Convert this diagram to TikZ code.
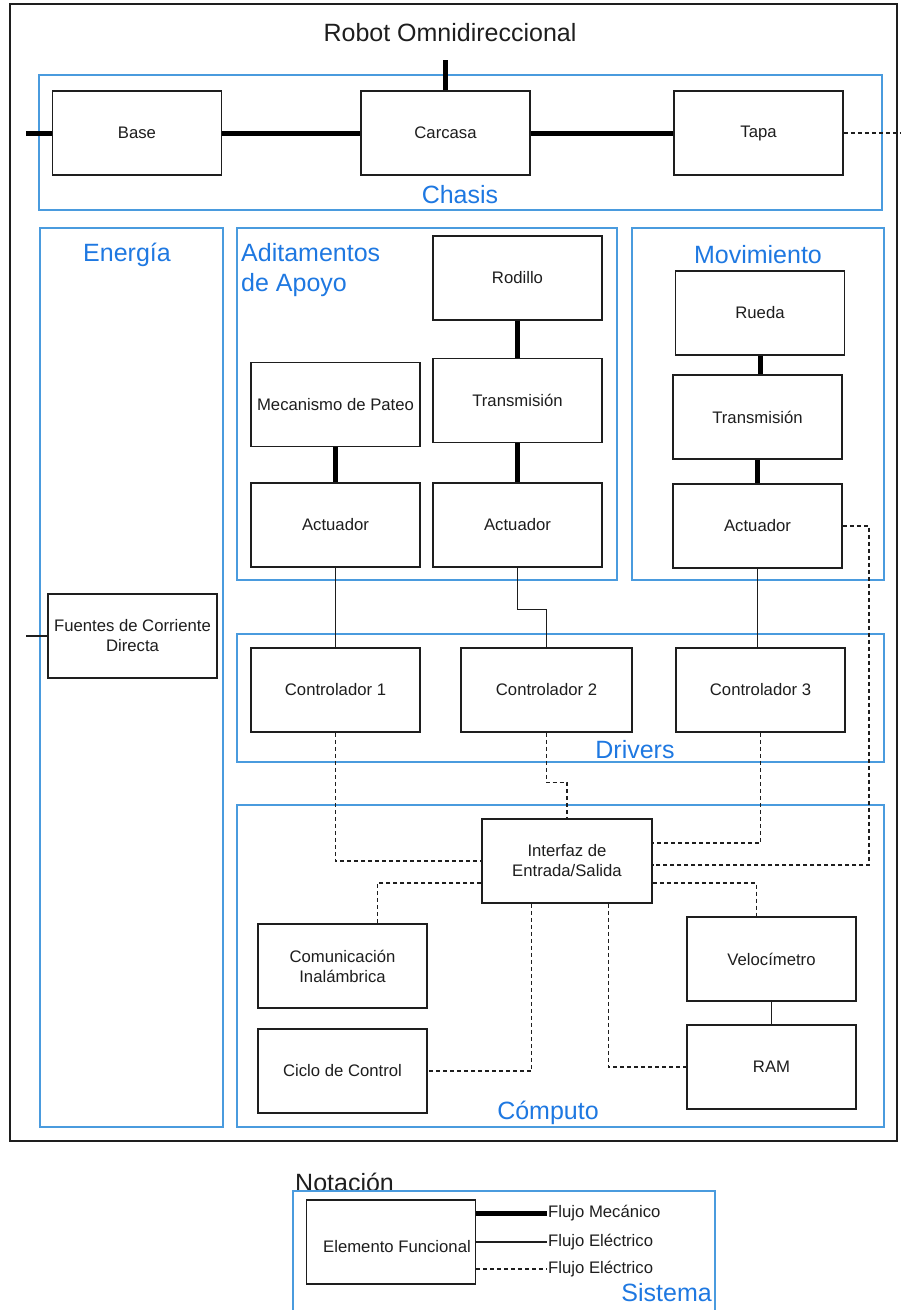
\documentclass[tikz,border=0pt]{standalone}
\usepackage{fontspec}
\setmainfont{Liberation Sans}
\usetikzlibrary{calc}
\definecolor{grpblue}{RGB}{74,155,222}
\definecolor{lblblue}{RGB}{30,120,225}
\definecolor{ink}{RGB}{30,30,30}
\begin{document}
\begin{tikzpicture}[x=1pt,y=-1pt,
  fbox/.style={draw=ink,line width=1.5pt,fill=white,minimum width=169pt,minimum height=84pt,
    inner sep=2pt,align=center,font=\fontsize{16.7}{20}\selectfont,text=ink},
  group/.style={draw=grpblue,line width=1.4pt},
  grplabel/.style={text=lblblue,font=\fontsize{25}{30}\selectfont,inner sep=0pt},
  heading/.style={text=ink,font=\fontsize{25}{30}\selectfont,inner sep=0pt},
  mech/.style={line width=5pt,draw=black},
  elec/.style={line width=1.3pt,draw=ink},
  signal/.style={line width=1.3pt,draw=ink,dash pattern=on 4pt off 3pt},
  legend/.style={text=ink,font=\fontsize{16.7}{20}\selectfont,inner sep=0pt,anchor=west}]

\useasboundingbox (0,0) rectangle (901,1310);

% system frame and title
\draw[line width=1.6pt,draw=ink] (10,4) rectangle (897,1141);
\node[heading] (title) at (450,33) {Robot Omnidireccional};

% functional groups
\draw[group] (39,75) rectangle (882,210);
\draw[group] (40,228) rectangle (223,1127);
\draw[group] (237,228) rectangle (617,580);
\draw[group] (632,228) rectangle (884,580);
\draw[group] (237,634) rectangle (884,762);
\draw[group] (237,805) rectangle (884,1127);

\node[grplabel] (lchasis) at (460,195) {Chasis};
\node[grplabel] (lenergia) at (127,255) {Energía};
\node[grplabel,anchor=west,align=left] (lapoyo) at (241,270) {Aditamentos\\de Apoyo};
\node[grplabel] (lmov) at (758,255) {Movimiento};
\node[grplabel] (ldrivers) at (635,750) {Drivers};
\node[grplabel] (lcomputo) at (548,1113) {Cómputo};

% chassis
\node[fbox] (base) at (137,133) {Base};
\node[fbox] (carcasa) at (445.5,133) {Carcasa};
\node[fbox] (tapa) at (758.5,133) {Tapa};
\coordinate (chtop) at (445.5,60);
\coordinate (chleft) at (26,133);
\coordinate (chright) at (901,133);

% energy
\node[fbox] (fuentes) at (132.5,636) {Fuentes de Corriente\\Directa};
\coordinate (fuleft) at (26,636);

% support attachments
\node[fbox] (rodillo) at (517.5,278) {Rodillo};
\node[fbox] (transA) at (517.5,400.5) {Transmisión};
\node[fbox] (pateo) at (335.5,404.5) {Mecanismo de Pateo};
\node[fbox] (actL) at (335.5,525) {Actuador};
\node[fbox] (actM) at (517.5,525) {Actuador};

% motion
\node[fbox] (rueda) at (760,313) {Rueda};
\node[fbox] (transB) at (757.5,417) {Transmisión};
\node[fbox] (actR) at (757.5,526) {Actuador};

% drivers
\node[fbox] (ctrlA) at (335.5,690) {Controlador 1};
\node[fbox,minimum width=171pt] (ctrlB) at (546.5,690) {Controlador 2};
\node[fbox] (ctrlC) at (760.5,690) {Controlador 3};

% computing
\node[fbox,minimum width=170pt] (io) at (567,861) {Interfaz de\\Entrada/Salida};
\node[fbox] (comun) at (342.5,966) {Comunicación\\Inalámbrica};
\node[fbox] (ciclo) at (342.5,1071) {Ciclo de Control};
\node[fbox] (velo) at (771.5,959) {Velocímetro};
\node[fbox] (ram) at (771.5,1067) {RAM};
\coordinate (vtap) at ($(velo.north west)+(70,0)$);
\coordinate (ctap) at ($(comun.north west)+(120,0)$);
\coordinate (drop) at (869,865);

% mechanical flow
\draw[mech] (chleft) -- (base.west);
\draw[mech] (base.east) -- (carcasa.west);
\draw[mech] (carcasa.east) -- (tapa.west);
\draw[mech] (carcasa.north) -- (chtop);
\draw[mech] (rodillo.south) -- (transA.north);
\draw[mech] (transA.south) -- (actM.north);
\draw[mech] (pateo.south) -- (actL.north);
\draw[mech] (rueda.south) -- (rueda.south |- transB.north);
\draw[mech] (transB.south) -- (actR.north);

% electrical flow
\draw[elec] (fuleft) -- (fuentes.west);
\draw[elec] (actL.south) -- (ctrlA.north);
\draw[elec] (actM.south) -- ++(0,42) -| (ctrlB.north);
\draw[elec] (actR.south) -- (actR.south |- ctrlC.north);
\draw[elec] (velo.south) -- (ram.north);

% signal flow
\draw[signal] (tapa.east) -- (chright);
\draw[signal] (ctrlA.south) |- (io.west);
\draw[signal] (ctrlB.south) -- ++(0,50) -| (io.north);
\draw[signal] (ctrlC.south) |- ([yshift=18pt]io.east);
\draw[signal] (actR.east) -| (drop) -- (drop -| io.east);
\draw[signal] ([yshift=-22pt]io.east) -| (vtap);
\draw[signal] ([yshift=-22pt]io.west) -| (ctap);
\draw[signal] ([xshift=50pt]io.south west) |- (ciclo.east);
\draw[signal] ([xshift=127pt]io.south west) |- (ram.west);

% notation
\node[heading,anchor=west] (lnot) at (295,1182) {Notación};
\draw[group] (293,1315) -- (293,1191) -- (715,1191) -- (715,1315);
\node[grplabel,anchor=east] (lsis) at (712,1293) {Sistema};
\node[fbox,minimum height=84pt] (elem) at (391,1242) {};
\node[text=ink,font=\fontsize{16.7}{20}\selectfont,inner sep=0pt] (elemtxt) at (397,1247) {Elemento Funcional};
\coordinate (lgA) at (547,1213);
\coordinate (lgB) at (547,1242);
\coordinate (lgC) at (547,1269);
\draw[mech] (elem.east |- lgA) -- (lgA);
\draw[elec] (elem.east |- lgB) -- (lgB);
\draw[signal] (elem.east |- lgC) -- (lgC);
\node[legend] (tA) at (548,1213) {Flujo Mecánico};
\node[legend] (tB) at (548,1242) {Flujo Eléctrico};
\node[legend] (tC) at (548,1269) {Flujo Eléctrico};

\end{tikzpicture}
\end{document}
